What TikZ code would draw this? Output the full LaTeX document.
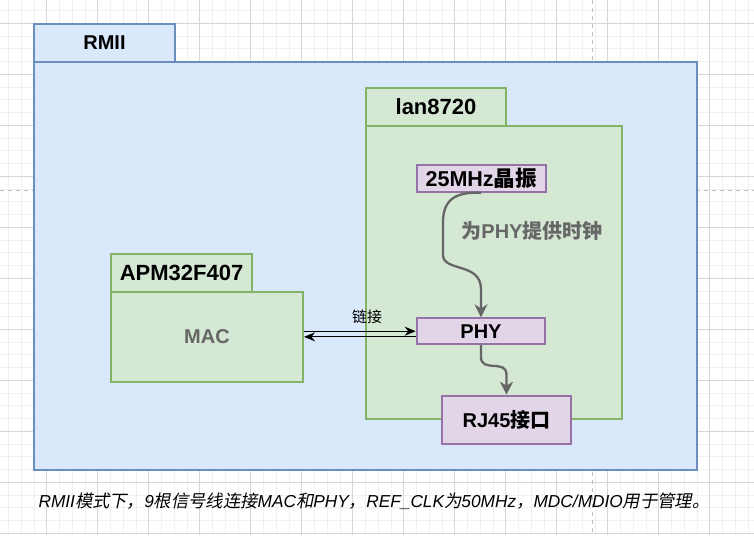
\documentclass[tikz,border=0pt]{standalone}
\usepackage{fontspec}
\setmainfont{Liberation Sans}
\newfontfamily\cjk{Noto Sans CJK SC}
\newfontfamily\cjkit{Noto Sans CJK SC}[FakeSlant=0.2]
\usepackage{xcolor}
\usepackage{tikz}
\usetikzlibrary{arrows.meta,calc}
\definecolor{rmiifill}{HTML}{DAE8FC}
\definecolor{rmiiline}{HTML}{6C8EBF}
\definecolor{chipfill}{HTML}{D5E8D4}
\definecolor{chipline}{HTML}{82B366}
\definecolor{partfill}{HTML}{E1D5E7}
\definecolor{partline}{HTML}{9673A6}
\definecolor{note}{HTML}{666666}

\begin{document}
\begin{tikzpicture}[x=1pt, y=-1pt,
    gridminor/.style={draw=black!6, line width=0.8pt},
    gridmajor/.style={draw=black!16, line width=0.8pt},
    pagebreak/.style={draw=black!25, line width=1pt, dash pattern=on 4pt off 4pt},
    bigtext/.style={font=\fontsize{20}{24}\selectfont\bfseries},
    widetext/.style={font=\fontsize{22}{26}\selectfont\bfseries},
    outer/.style={draw=rmiiline, fill=rmiifill, line width=2pt, inner sep=0pt, bigtext},
    chip/.style={draw=chipline, fill=chipfill, line width=2pt, inner sep=0pt, bigtext},
    part/.style={draw=partline, fill=partfill, line width=2pt, inner sep=0pt, bigtext},
    feed/.style={draw=note, line width=2.3pt, -{Stealth[length=13pt, width=13pt, inset=4pt]}},
    link/.style={draw=black, line width=1.2pt, -{Stealth[length=11pt, width=9pt, inset=3.5pt]}}
]
\useasboundingbox (0,0) rectangle (754,535);
\fill[white] (0,0) rectangle (754,535);
\foreach \i in {1,...,60} \draw[gridminor] ({-4.3+12.75*\i},0) -- ++(0,535);
\foreach \i in {1,...,42} \draw[gridminor] (0,{-2.2+12.75*\i}) -- ++(754,0);
\foreach \i in {1,...,15} \draw[gridmajor] ({-4.3+51*\i},0) -- ++(0,535);
\foreach \i in {0,...,10} \draw[gridmajor] (0,{23.3+51*\i}) -- ++(754,0);
\draw[pagebreak] (592,0) -- (592,535);
\draw[pagebreak] (0,190) -- (754,190);

\node[outer, minimum width=663pt, minimum height=408pt] (rmii) at (365.5,266) {};
\node[outer, minimum width=141pt, minimum height=38pt] (rmiitab) at (104.5,43) {RMII};
\node[chip, minimum width=255.5pt, minimum height=293pt] (lan) at (493.75,272.5) {};
\node[chip, widetext, minimum width=140pt, minimum height=38pt] (lantab) at (436,107) {lan8720};
\node[chip, minimum width=192pt, minimum height=89.7pt, text=note] (mac) at (207,336.85) {MAC};
\node[chip, widetext, minimum width=141pt, minimum height=38pt] (apmtab) at (181.5,273) {APM32F407};
\node[part, font=\fontsize{21.5}{26}\selectfont\bfseries, minimum width=129pt, minimum height=27pt] (osc) at (481.2,178.2) {25MHz{\cjk 晶振}};
\node[part, minimum width=128.6pt, minimum height=25.7pt] (phy) at (481,331.2) {PHY};
\node[part, minimum width=129pt, minimum height=48.3pt] (rj) at (506.5,419.85) {RJ45{\cjk 接口}};

\node[bigtext, text=note] (clk) at (532,231) {{\cjk 为}PHY{\cjk 提供时钟}};
\node[font=\fontsize{15}{18}\selectfont\cjk] (linklbl) at (367,317) {链接};

\coordinate (b1) at (443,222);
\coordinate (b2) at (443,255);
\draw[feed] (osc.south) .. controls (455,191.7) and (443,200) .. (b1) -- (b2)
    .. controls (443,272) and (481,262) .. ($(phy.north)+(0,-28)$) -- (phy.north);
\draw[feed] (phy.south) -- ++(0,12) .. controls +(0,16) and +(0,-16) .. ($(rj.north)+(0,-20)$) -- (rj.north);
\draw[link] (phy.west -| mac.east) -- (phy.west);
\draw[link] (mac.east -| phy.west) -- (mac.east);

\node[anchor=west, font=\fontsize{17.3}{20}\selectfont\itshape] (caption) at (35,501)
    {RMII{\cjkit 模式下，}9{\cjkit 根信号线连接}MAC{\cjkit 和}PHY{\cjkit ，}REF\_CLK{\cjkit 为}50MHz{\cjkit ，}MDC/MDIO{\cjkit 用于管理。}};
\end{tikzpicture}
\end{document}
